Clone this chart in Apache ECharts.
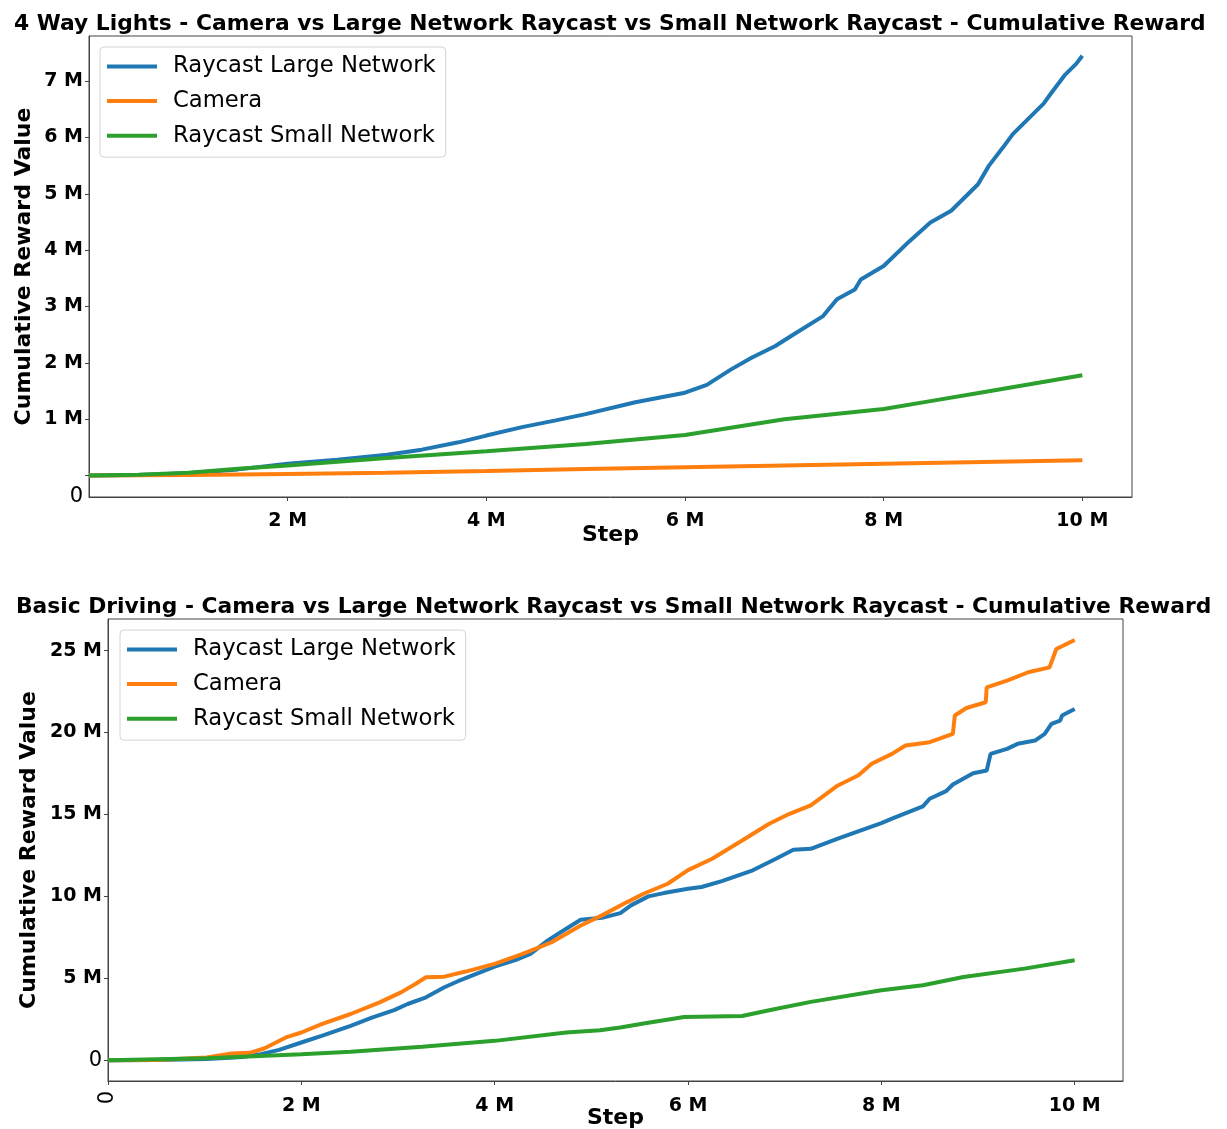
<!DOCTYPE html>
<html><head><meta charset="utf-8">
<script src="https://cdn.jsdelivr.net/npm/echarts@6/dist/echarts.min.js"></script>
<style>html,body{margin:0;padding:0;background:#fff}#c{width:1227px;height:1129px}</style>
</head><body><div id="c"></div>
<script>
// ---------- DATA (steps and values in millions) ----------
const seriesNames = ['Raycast Large Network', 'Camera', 'Raycast Small Network'];
const titles = [
  '4 Way Lights - Camera vs Large Network Raycast vs Small Network Raycast - Cumulative Reward',
  'Basic Driving - Camera vs Large Network Raycast vs Small Network Raycast - Cumulative Reward'
];

// 4 Way Lights
const lightsLargeSteps = [0, 0.5, 1, 1.5, 2, 2.5, 3, 3.35, 3.72, 4, 4.36, 4.7, 5, 5.5, 6, 6.22, 6.46, 6.67, 6.91, 7.08, 7.39, 7.53, 7.71, 7.77, 8, 8.26, 8.47, 8.68, 8.95, 9.06, 9.2, 9.3, 9.61, 9.68, 9.82, 9.94, 10];
const lightsLargeValues = [0, 0.01, 0.04, 0.11, 0.21, 0.28, 0.37, 0.46, 0.59, 0.71, 0.86, 0.98, 1.09, 1.30, 1.47, 1.61, 1.88, 2.09, 2.30, 2.49, 2.83, 3.13, 3.30, 3.48, 3.72, 4.16, 4.49, 4.70, 5.17, 5.50, 5.82, 6.06, 6.60, 6.77, 7.10, 7.31, 7.45];
const lightsCameraSteps = [0, 1, 2, 3, 4, 5, 6, 7, 8, 9, 10];
const lightsCameraValues = [0, 0.01, 0.03, 0.05, 0.08, 0.115, 0.15, 0.18, 0.21, 0.24, 0.27];
const lightsSmallSteps = [0, 0.5, 1, 1.5, 2, 3, 4, 5, 6, 7, 8, 8.5, 9, 9.5, 10];
const lightsSmallValues = [0, 0.015, 0.05, 0.12, 0.18, 0.31, 0.43, 0.56, 0.72, 1.0, 1.18, 1.33, 1.48, 1.63, 1.78];

// Basic Driving
const drivingLargeSteps = [0, 0.5, 1.02, 1.39, 1.58, 1.77, 2.0, 2.21, 2.51, 2.73, 2.96, 3.1, 3.29, 3.48, 3.62, 3.81, 4.0, 4.22, 4.37, 4.55, 4.74, 4.89, 5.11, 5.3, 5.41, 5.59, 5.75, 6.0, 6.14, 6.35, 6.67, 6.91, 7.09, 7.27, 7.55, 8.0, 8.11, 8.43, 8.5, 8.67, 8.74, 8.95, 9.09, 9.13, 9.3, 9.41, 9.59, 9.69, 9.76, 9.85, 9.87, 10.0];
const drivingLargeValues = [0, 0.01, 0.08, 0.2, 0.37, 0.63, 1.08, 1.49, 2.1, 2.6, 3.06, 3.43, 3.84, 4.45, 4.82, 5.27, 5.71, 6.12, 6.49, 7.31, 8.02, 8.57, 8.69, 8.98, 9.45, 10.0, 10.2, 10.47, 10.57, 10.93, 11.59, 12.3, 12.85, 12.9, 13.52, 14.47, 14.74, 15.49, 15.96, 16.42, 16.83, 17.52, 17.68, 18.7, 19.0, 19.31, 19.51, 19.92, 20.53, 20.73, 21.04, 21.44];
const drivingCameraSteps = [0, 0.5, 1.02, 1.28, 1.47, 1.62, 1.84, 2.0, 2.21, 2.51, 2.81, 3.03, 3.18, 3.29, 3.48, 3.7, 4.0, 4.29, 4.59, 4.89, 5.11, 5.37, 5.54, 5.79, 6.0, 6.25, 6.56, 6.84, 7.05, 7.27, 7.55, 7.76, 7.9, 8.11, 8.25, 8.5, 8.74, 8.76, 8.88, 9.08, 9.09, 9.3, 9.52, 9.74, 9.81, 10.0];
const drivingCameraValues = [0, 0.01, 0.16, 0.41, 0.45, 0.73, 1.39, 1.69, 2.2, 2.82, 3.53, 4.14, 4.65, 5.06, 5.1, 5.41, 5.88, 6.49, 7.2, 8.22, 8.84, 9.65, 10.16, 10.77, 11.6, 12.3, 13.41, 14.43, 15.04, 15.55, 16.77, 17.38, 18.09, 18.7, 19.21, 19.41, 19.92, 21.04, 21.5, 21.85, 22.76, 23.17, 23.68, 23.98, 25.1, 25.65];
const drivingSmallSteps = [0, 1.02, 2.0, 2.51, 3.25, 4.0, 4.74, 5.09, 5.3, 5.54, 5.96, 6.56, 6.84, 7.27, 8.0, 8.43, 8.85, 9.48, 10.0];
const drivingSmallValues = [0, 0.12, 0.37, 0.51, 0.82, 1.18, 1.69, 1.83, 2.0, 2.24, 2.64, 2.70, 3.05, 3.56, 4.27, 4.57, 5.08, 5.59, 6.1];

// Axis ranges and ticks
const stepRange = [0, 10.5];
const lightsYRange = [-0.38, 7.8];
const drivingYRange = [-1.27, 26.93];
const lightsXTicks = [2, 4, 6, 8, 10];
const drivingXTicks = [0, 2, 4, 6, 8, 10];
const drivingXLabels = [2, 4, 6, 8, 10];
const lightsYTicks = [0, 1, 2, 3, 4, 5, 6, 7];
const lightsYLabels = [-0.38, 1, 2, 3, 4, 5, 6, 7];
const drivingYTicks = [0, 5, 10, 15, 20, 25];

// ---------- STYLE ----------
const F = 'DejaVu Sans';
const colors = ['#1f77b4', '#ff7f0e', '#2ca02c'];
const AX = '#444';
const zip = (a, b) => a.map((v, i) => [v, b[i]]);
const mLabel = v => (Math.abs(v) < 1e-9 || v < 0) ? '{z|0}' : '{b|' + v + ' M}';
const rich = {
  b: { fontFamily: F, fontWeight: 'bold', fontSize: 19, color: '#000' },
  z: { fontFamily: F, fontWeight: 'normal', fontSize: 21, color: '#000' }
};

function xAxisCfg(grid, ticks, labels, margin, nameGap) {
  return {
    type: 'value', gridIndex: grid, min: stepRange[0], max: stepRange[1],
    axisLine: { show: true, onZero: false, lineStyle: { color: AX, width: 1 } },
    axisTick: { show: true, customValues: ticks, length: 4, lineStyle: { color: AX } },
    axisLabel: { customValues: labels, formatter: mLabel, rich: rich, margin: margin },
    splitLine: { show: false },
    name: 'Step', nameLocation: 'middle', nameGap: nameGap, nameMoveOverlap: false,
    nameTextStyle: { fontFamily: F, fontWeight: 'bold', fontSize: 22, color: '#000' }
  };
}
function yAxisCfg(grid, range, ticks, labels, nameGap) {
  return {
    type: 'value', gridIndex: grid, min: range[0], max: range[1],
    axisLine: { show: true, lineStyle: { color: AX, width: 1 } },
    axisTick: { show: true, customValues: ticks, length: 4, lineStyle: { color: AX } },
    axisLabel: { customValues: labels, formatter: mLabel, rich: rich, margin: 6 },
    splitLine: { show: false },
    name: 'Cumulative Reward Value', nameLocation: 'middle', nameGap: nameGap, nameMoveOverlap: false,
    nameTextStyle: { fontFamily: F, fontWeight: 'bold', fontSize: 22, color: '#000' }
  };
}
function lineSeries(name, idx, grid, data) {
  return {
    type: 'line', name: name, xAxisIndex: grid === 0 ? 0 : 1, yAxisIndex: grid,
    data: data, showSymbol: false, symbol: 'none', smooth: false,
    lineStyle: { color: colors[idx], width: 4 }, itemStyle: { color: colors[idx] },
    z: 2 + idx
  };
}
function legendCfg(left, top) {
  return {
    orient: 'vertical', left: left, top: top, data: seriesNames,
    icon: 'rect', itemWidth: 50, itemHeight: 4, itemGap: 11.6,
    padding: [8, 10, 10, 7],
    backgroundColor: 'rgba(255,255,255,0.8)', borderColor: '#d4d4d4', borderWidth: 1, borderRadius: 4,
    textStyle: { fontFamily: F, fontSize: 22.7, lineHeight: 22, color: '#000', padding: [0, 0, 0, 11] },
    selectedMode: false
  };
}

const chart = echarts.init(document.getElementById('c'), null, { renderer: 'canvas' });
chart.setOption({
  animation: false,
  backgroundColor: '#fff',
  title: [
    { text: titles[0], left: 14, top: 13, padding: 0, textStyle: { fontFamily: F, fontWeight: 'bold', fontSize: 21.8, color: '#000' } },
    { text: titles[1], left: 16, top: 596, padding: 0, textStyle: { fontFamily: F, fontWeight: 'bold', fontSize: 21.8, color: '#000' } }
  ],
  legend: [legendCfg(100, 47), legendCfg(120, 630)],
  grid: [
    { left: 89, top: 36, width: 1043, height: 461, show: true, borderColor: AX, borderWidth: 1, containLabel: false, outerBoundsMode: 'none' },
    { left: 108, top: 619, width: 1015, height: 462, show: true, borderColor: AX, borderWidth: 1, containLabel: false, outerBoundsMode: 'none' }
  ],
  xAxis: [
    xAxisCfg(0, lightsXTicks, lightsXTicks, 15, 27),
    xAxisCfg(1, drivingXTicks, drivingXLabels, 16, 26),
    {
      type: 'value', gridIndex: 1, min: stepRange[0], max: stepRange[1], position: 'bottom',
      axisLine: { show: false, onZero: false }, axisTick: { show: false }, splitLine: { show: false },
      axisLabel: { customValues: [0], rotate: 90, margin: 10, formatter: () => '0',
        fontFamily: F, fontWeight: 'normal', fontSize: 21, color: '#000' }
    }
  ],
  yAxis: [
    yAxisCfg(0, lightsYRange, lightsYTicks, lightsYLabels, 54),
    yAxisCfg(1, drivingYRange, drivingYTicks, drivingYTicks, 68)
  ],
  series: [
    lineSeries(seriesNames[0], 0, 0, zip(lightsLargeSteps, lightsLargeValues)),
    lineSeries(seriesNames[1], 1, 0, zip(lightsCameraSteps, lightsCameraValues)),
    lineSeries(seriesNames[2], 2, 0, zip(lightsSmallSteps, lightsSmallValues)),
    lineSeries(seriesNames[0], 0, 1, zip(drivingLargeSteps, drivingLargeValues)),
    lineSeries(seriesNames[1], 1, 1, zip(drivingCameraSteps, drivingCameraValues)),
    lineSeries(seriesNames[2], 2, 1, zip(drivingSmallSteps, drivingSmallValues))
  ]
});
</script></body></html>
